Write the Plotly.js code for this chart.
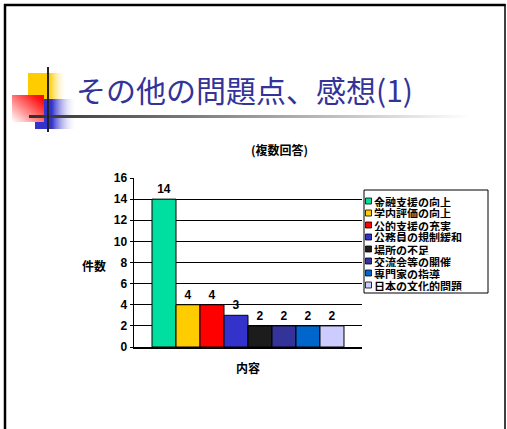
<!DOCTYPE html>
<html>
<head>
<meta charset="utf-8">
<script src="https://cdn.plot.ly/plotly-3.0.1.min.js"></script>
<style>
html,body{margin:0;padding:0;background:#fff;}
#chart{width:507px;height:429px;}
</style>
</head>
<body>
<div id="chart"></div>
<script>
// ---- data ----
const categoryLabel = '内容';
const seriesNames = ['金融支援の向上','学内評価の向上','公的支援の充実','公務員の規制緩和','場所の不足','交流会等の開催','専門家の指導','日本の文化的問題'];
const seriesValues = [14, 4, 4, 3, 2, 2, 2, 2];
const seriesColors = ['#00DFA0','#FFCC00','#FF0000','#3333CC','#1C1C1C','#333399','#0066CC','#CCCCFF'];
const yTickValues = [0,2,4,6,8,10,12,14,16];
const titleText = 'その他の問題点、感想(1)';
const subtitleText = '(複数回答)';
const yTitleText = '件数';

// ---- helpers (pixel -> paper) ----
const W = 507, H = 429;
const px = v => v / W;
const py = v => 1 - v / H;

const CJK = '"Noto Sans CJK JP", sans-serif';
const NUM = '"Liberation Sans", Arial, "Noto Sans CJK JP", sans-serif';

const traces = seriesNames.map((name, i) => ({
  type: 'bar',
  name: name,
  x: [categoryLabel],
  y: [seriesValues[i]],
  text: [String(seriesValues[i])],
  textposition: 'outside',
  cliponaxis: false,
  textfont: {family: NUM, size: 12, color: '#000', weight: 'bold'},
  marker: {color: seriesColors[i], line: {color: '#000', width: 1}},
  showlegend: false,
  hoverinfo: 'skip'
}));

// decoration svg
const deco = `<svg xmlns="http://www.w3.org/2000/svg" width="${W}" height="${H}" viewBox="0 0 ${W} ${H}">
<defs>
<linearGradient id="gy" x1="0" y1="0" x2="1" y2="0"><stop offset="0" stop-color="#FFCC00"/><stop offset="0.55" stop-color="#FFCC00"/><stop offset="1" stop-color="#FFFFFF" stop-opacity="0"/></linearGradient>
<linearGradient id="gb" x1="0" y1="0" x2="1" y2="0"><stop offset="0" stop-color="#3333CC"/><stop offset="0.4" stop-color="#3333CC"/><stop offset="1" stop-color="#FFFFFF" stop-opacity="0"/></linearGradient>
<linearGradient id="gr" x1="1" y1="0" x2="0" y2="1"><stop offset="0" stop-color="#FF0000"/><stop offset="0.15" stop-color="#FF1010"/><stop offset="1" stop-color="#FFFFFF"/></linearGradient>
<linearGradient id="gl" x1="0" y1="0" x2="1" y2="0"><stop offset="0" stop-color="#303030"/><stop offset="1" stop-color="#FFFFFF"/></linearGradient>
</defs>
<rect x="28" y="73" width="39" height="26" fill="url(#gy)"/>
<rect x="35" y="99" width="42" height="30" fill="url(#gb)"/>
<rect x="12" y="95" width="32" height="27" fill="url(#gr)"/>
<rect x="29" y="115" width="441" height="3" fill="url(#gl)"/>
<rect x="47" y="67" width="2" height="65" fill="#222"/>
</svg>`;
const decoUri = 'data:image/svg+xml;charset=utf-8,' + encodeURIComponent(deco);

const shapes = [
  // frame
  {type:'line', xref:'paper', yref:'paper', x0:px(5), x1:px(5), y0:py(4), y1:py(429), line:{color:'#000', width:2.5}},
  {type:'line', xref:'paper', yref:'paper', x0:px(4), x1:px(505.5), y0:py(5), y1:py(5), line:{color:'#000', width:2.5}},
  {type:'line', xref:'paper', yref:'paper', x0:px(505), x1:px(505), y0:py(4), y1:py(429), line:{color:'#000', width:1.5}},
  // legend box
  {type:'rect', xref:'paper', yref:'paper', x0:px(364), x1:px(488), y0:py(293), y1:py(190), line:{color:'#000', width:1}, fillcolor:'#fff'}
];
const annotations = [
  {xref:'paper', yref:'paper', x:px(74), y:py(89), xanchor:'left', yanchor:'middle', showarrow:false,
   text:titleText, font:{family:CJK, size:30, color:'#333399'}},
  {xref:'paper', yref:'paper', x:px(279), y:py(149), xanchor:'center', yanchor:'middle', showarrow:false,
   text:subtitleText, font:{family:CJK, size:12, color:'#000', weight:'bold'}},
  {xref:'paper', yref:'paper', x:px(94), y:py(265), xanchor:'center', yanchor:'middle', showarrow:false,
   text:yTitleText, font:{family:CJK, size:12, color:'#000', weight:'bold'}}
];
seriesNames.forEach((name, i) => {
  const cy = 201 + 12 * i;
  shapes.push({type:'rect', xref:'paper', yref:'paper', x0:px(365.5), x1:px(371.5), y0:py(cy+3), y1:py(cy-3),
    fillcolor: seriesColors[i], line:{color:'#000', width:0.8}});
  annotations.push({xref:'paper', yref:'paper', x:px(373), y:py(cy), xanchor:'left', yanchor:'middle', showarrow:false,
    height: 11, borderpad: 0, valign: 'middle',
    text:name, font:{family:CJK, size:11, color:'#000', weight:'bold'}});
});

const layout = {
  width: W, height: H,
  margin: {l:0, r:0, t:0, b:0, pad:0},
  paper_bgcolor: '#fff',
  plot_bgcolor: 'rgba(0,0,0,0)',
  barmode: 'group',
  bargap: 0.158,
  bargroupgap: 0,
  showlegend: false,
  xaxis: {
    domain: [px(134), px(362)],
    type: 'category',
    showgrid: false, zeroline: false,
    showline: true, linecolor: '#000', linewidth: 1.5,
    ticks: '', ticklabelstandoff: 10,
    tickfont: {family: CJK, size: 12, color: '#000', weight: 'bold'},
    fixedrange: true
  },
  yaxis: {
    domain: [py(347), py(178)],
    range: [0, 16],
    tickvals: yTickValues,
    ticktext: yTickValues.map(String),
    showgrid: true, gridcolor: '#000', gridwidth: 1,
    zeroline: false,
    showline: true, linecolor: '#000', linewidth: 1.5,
    ticks: 'outside', ticklen: 3, tickcolor: '#000', tickwidth: 1,
    tickfont: {family: NUM, size: 12, color: '#000', weight: 'bold'},
    fixedrange: true
  },
  images: [{source: decoUri, xref:'paper', yref:'paper', x:0, y:1, sizex:1, sizey:1,
            xanchor:'left', yanchor:'top', sizing:'stretch', layer:'above'}],
  shapes: shapes,
  annotations: annotations
};

Plotly.newPlot('chart', traces, layout, {displayModeBar:false, staticPlot:true});
</script>
</body>
</html>
